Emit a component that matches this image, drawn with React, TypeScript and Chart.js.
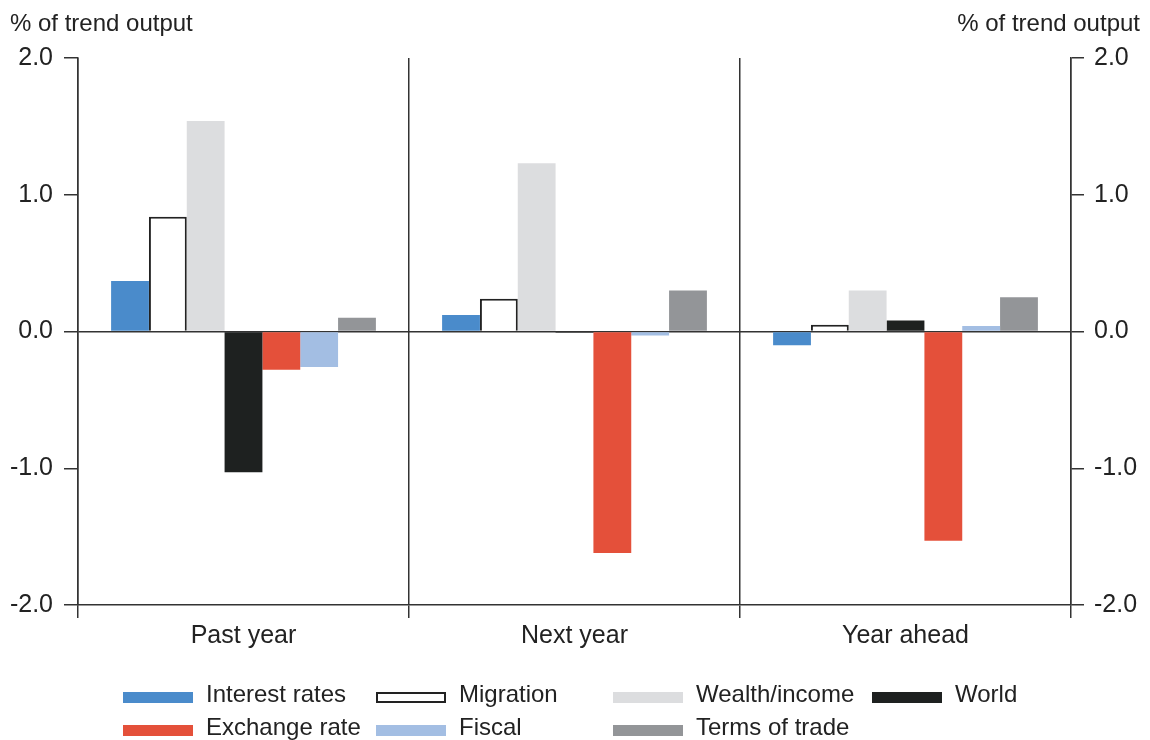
import React, { useEffect, useRef } from "react";
import { Chart, registerables } from "chart.js";

Chart.register(...registerables);

const categories = ["Past year", "Next year", "Year ahead"];
const seriesNames = [
  "Interest rates",
  "Migration",
  "Wealth/income",
  "World",
  "Exchange rate",
  "Fiscal",
  "Terms of trade",
];
const interestRates = [0.37, 0.12, -0.1];
const migration = [0.84, 0.24, 0.05];
const wealthIncome = [1.54, 1.23, 0.3];
const world = [-1.03, -0.01, 0.08];
const exchangeRate = [-0.28, -1.62, -1.53];
const fiscal = [-0.26, -0.03, 0.04];
const termsOfTrade = [0.1, 0.3, 0.25];
const yTicks = [-2, -1, 0, 1, 2];
const axisTitle = "% of trend output";

const seriesValues = [
  interestRates,
  migration,
  wealthIncome,
  world,
  exchangeRate,
  fiscal,
  termsOfTrade,
];
const fillColors = [
  "#4A8BCB",
  "#FFFFFF",
  "#DCDDDF",
  "#1E2120",
  "#E4503A",
  "#A3BEE3",
  "#939598",
];
const borderColors = [
  "#4A8BCB",
  "#222222",
  "#DCDDDF",
  "#1E2120",
  "#E4503A",
  "#A3BEE3",
  "#939598",
];
const borderWidths = [0, 2, 0, 0, 0, 0, 0];

const FONT = "'Liberation Sans', Arial, sans-serif";
const AXIS = "#333333";
const TEXT = "#222222";

const titlePlugin = {
  id: "axisTitles",
  afterDraw(chart: any) {
    const ctx = chart.ctx;
    ctx.save();
    ctx.font = `24px ${FONT}`;
    ctx.fillStyle = TEXT;
    ctx.textBaseline = "alphabetic";
    ctx.textAlign = "left";
    ctx.fillText(axisTitle, 10, 31);
    ctx.textAlign = "right";
    ctx.fillText(axisTitle, 1140, 31);
    ctx.restore();
  },
};

export default function App() {
  const ref = useRef<HTMLCanvasElement | null>(null);

  useEffect(() => {
    if (!ref.current) return;
    Chart.defaults.font.family = FONT;
    const tickCb = (v: any) => Number(v).toFixed(1);
    const chart = new Chart(ref.current, {
      type: "bar",
      data: {
        labels: categories,
        datasets: seriesNames.map((name, i) => ({
          label: name,
          data: seriesValues[i],
          backgroundColor: fillColors[i],
          borderColor: borderColors[i],
          borderWidth: borderWidths[i],
          barPercentage: 1.0,
          categoryPercentage: 0.8,
          yAxisID: "y",
        })),
      },
      options: {
        animation: false,
        responsive: true,
        maintainAspectRatio: false,
        layout: { padding: { top: 58, bottom: 80, left: 0, right: 0 } },
        plugins: {
          legend: { display: false },
          tooltip: { enabled: false },
        },
        scales: {
          x: {
            offset: true,
            grid: {
              offset: true,
              drawOnChartArea: true,
              color: AXIS,
              lineWidth: 1.5,
              tickLength: 13,
              tickColor: AXIS,
            },
            border: { display: true, color: AXIS, width: 1.5 },
            ticks: { font: { size: 25 }, color: TEXT, padding: 3 },
            afterFit: (s: any) => {
              s.height = 55;
            },
          },
          y: {
            position: "left",
            min: -2,
            max: 2,
            afterBuildTicks: (s: any) => {
              s.ticks = yTicks.map((v) => ({ value: v }));
            },
            ticks: {
              callback: tickCb,
              font: { size: 25 },
              color: TEXT,
              padding: 11,
            },
            grid: {
              color: (c: any) =>
                c.tick && c.tick.value === 0 ? AXIS : "rgba(0,0,0,0)",
              lineWidth: 1.5,
              tickColor: AXIS,
              tickLength: 14,
            },
            border: { display: true, color: AXIS, width: 1.5 },
            afterFit: (s: any) => {
              s.width = 78;
            },
          },
          y2: {
            position: "right",
            min: -2,
            max: 2,
            afterBuildTicks: (s: any) => {
              s.ticks = yTicks.map((v) => ({ value: v }));
            },
            ticks: {
              callback: tickCb,
              font: { size: 25 },
              color: TEXT,
              padding: 10,
            },
            grid: {
              drawOnChartArea: false,
              color: AXIS,
              lineWidth: 1.5,
              tickColor: AXIS,
              tickLength: 13,
            },
            border: { display: true, color: AXIS, width: 1.5 },
            afterFit: (s: any) => {
              s.width = 79;
            },
          },
        },
      },
      plugins: [titlePlugin],
    } as any);
    return () => chart.destroy();
  }, []);

  return (
    <div
      style={{
        position: "absolute",
        left: 0,
        top: 0,
        width: 1150,
        height: 740,
        background: "#fff",
        fontFamily: FONT,
      }}
    >
      <canvas ref={ref} width={1150} height={740} />
      <div
        style={{
          position: "absolute",
          left: 123,
          top: 677,
          display: "grid",
          gridTemplateColumns: "253px 237px 259px auto",
          gridAutoRows: "33px",
        }}
      >
        {seriesNames.map((name, i) => (
          <div
            key={name}
            style={{
              display: "flex",
              alignItems: "center",
              height: 33,
              whiteSpace: "nowrap",
            }}
          >
            <span
              style={{
                display: "inline-block",
                width: 70,
                height: 11,
                boxSizing: "border-box",
                background: fillColors[i],
                border:
                  borderWidths[i] > 0
                    ? `${borderWidths[i]}px solid ${borderColors[i]}`
                    : "none",
                marginRight: 13,
                position: "relative",
                top: 4,
              }}
            />
            <span style={{ fontSize: 24, lineHeight: "33px", color: TEXT }}>
              {name}
            </span>
          </div>
        ))}
      </div>
    </div>
  );
}
